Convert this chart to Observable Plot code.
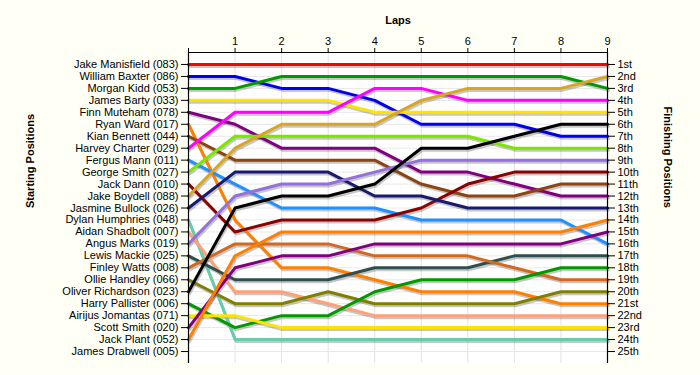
<!DOCTYPE html>
<html><head><meta charset="utf-8">
<script src="https://cdn.jsdelivr.net/npm/d3@7"></script>
<script src="https://cdn.jsdelivr.net/npm/@observablehq/plot@0.6"></script>
<style>
html,body{margin:0;padding:0;background:#FFFFF5;}
#chart svg{display:block;background:#FFFFF5;}
</style></head><body><div id="chart"></div>
<script>
const drivers = [
  "Jake Manisfield (083)", "William Baxter (086)", "Morgan Kidd (053)", "James Barty (033)",
  "Finn Muteham (078)", "Ryan Ward (017)", "Kian Bennett (044)", "Harvey Charter (029)",
  "Fergus Mann (011)", "George Smith (027)", "Jack Dann (010)", "Jake Boydell (088)",
  "Jasmine Bullock (026)", "Dylan Humphries (048)", "Aidan Shadbolt (007)", "Angus Marks (019)",
  "Lewis Mackie (025)", "Finley Watts (008)", "Ollie Handley (066)", "Oliver Richardson (023)",
  "Harry Pallister (006)", "Airijus Jomantas (071)", "Scott Smith (020)", "Jack Plant (052)",
  "James Drabwell (005)"
];
const driverColors = [
  "#ff0000", "#0000ee", "#009900", "#ffe400",
  "#800080", "#ff8000", "#8b4513", "#ff00ff",
  "#1e90ff", "#7ce600", "#8b0000", "#daa520",
  "#191970", "#66cdaa", "#ffa07a", "#9370db",
  "#2f4f4f", "#d2691e", "#808000", "#000000",
  "#009900", "#ffe400", "#800080", "#ff8000",
  "#999999"
];
const laps = [0, 1, 2, 3, 4, 5, 6, 7, 8, 9];
// position of each driver at laps 0..9 (James Drabwell has no laps)
const lapPositions = [
  [1, 1, 1, 1, 1, 1, 1, 1, 1, 1],
  [2, 2, 3, 3, 4, 6, 6, 6, 7, 7],
  [3, 3, 2, 2, 2, 2, 2, 2, 2, 3],
  [4, 4, 4, 4, 5, 5, 5, 5, 5, 5],
  [5, 6, 8, 8, 8, 10, 10, 11, 12, 12],
  [6, 14, 18, 18, 19, 20, 20, 20, 21, 21],
  [7, 9, 9, 9, 9, 11, 12, 12, 11, 11],
  [8, 5, 5, 5, 3, 3, 4, 4, 4, 4],
  [9, 11, 13, 13, 13, 14, 14, 14, 14, 16],
  [10, 7, 7, 7, 7, 7, 7, 8, 8, 8],
  [11, 15, 14, 14, 14, 13, 11, 10, 10, 10],
  [12, 8, 6, 6, 6, 4, 3, 3, 3, 2],
  [13, 10, 10, 10, 12, 12, 13, 13, 13, 13],
  [14, 24, 24, 24, 24, 24, 24, 24, 24, 24],
  [15, 20, 20, 21, 22, 22, 22, 22, 22, 22],
  [16, 12, 11, 11, 10, 9, 9, 9, 9, 9],
  [17, 19, 19, 19, 18, 18, 18, 17, 17, 17],
  [18, 16, 16, 16, 17, 17, 17, 18, 19, 19],
  [19, 21, 21, 20, 21, 21, 21, 21, 20, 20],
  [20, 13, 12, 12, 11, 8, 8, 7, 6, 6],
  [21, 23, 22, 22, 20, 19, 19, 19, 18, 18],
  [22, 22, 23, 23, 23, 23, 23, 23, 23, 23],
  [23, 18, 17, 17, 16, 16, 16, 16, 16, 15],
  [24, 17, 15, 15, 15, 15, 15, 15, 15, 14],
  []
];
const finishLabels = [
  "1st", "2nd", "3rd", "4th", "5th", "6th", "7th", "8th", "9th", "10th",
  "11th", "12th", "13th", "14th", "15th", "16th", "17th", "18th", "19th", "20th",
  "21st", "22nd", "23rd", "24th", "25th"
];
const rowTicks = d3.range(1, 26);

const rows = drivers.flatMap((name, i) =>
  lapPositions[i].map((pos, k) => ({driver: name, lap: laps[k], pos, color: driverColors[i]})));

const font = "'Liberation Sans', Arial, sans-serif";
const chart = Plot.plot({
  width: 700,
  height: 375,
  marginTop: 52,
  marginBottom: 12,
  marginLeft: 188,
  marginRight: 93,
  style: {background: "#FFFFF5", fontFamily: font, fontSize: "11px", color: "#000"},
  x: {domain: [0, 9], axis: null},
  y: {domain: [0, 26], range: [52, 363], axis: null},
  marks: [
    Plot.frame({fill: "white", stroke: null}),
    Plot.gridX(laps, {stroke: "#e2e2e2", strokeOpacity: 1}),
    Plot.gridY(rowTicks, {stroke: "#e8e8e8", strokeOpacity: 1}),
    Plot.line(rows, {x: "lap", y: "pos", z: "driver", stroke: "#000", strokeOpacity: 0.22, strokeWidth: 3, dx: 1, dy: 2}),
    ...drivers.map((name, i) => Plot.line(rows.filter(r => r.driver === name), {
      x: "lap", y: "pos", stroke: driverColors[i], strokeWidth: 3
    })),
    Plot.ruleX([0, 9], {y1: 0, y2: 26, stroke: "#000", strokeWidth: 1.2}),
    Plot.ruleY([0], {x1: 0, x2: 9, stroke: "#000", strokeWidth: 1.2}),
    Plot.axisX(laps, {anchor: "top", tickSize: 5, tickPadding: 3, label: null,
      tickFormat: d => d === 0 ? "" : String(d), fontSize: 11}),
    Plot.axisY(rowTicks, {anchor: "left", tickSize: 7, tickPadding: 3, label: null,
      tickFormat: d => drivers[d - 1], fontSize: 11}),
    Plot.axisY(rowTicks, {anchor: "right", tickSize: 7, tickPadding: 3, label: null,
      tickFormat: d => finishLabels[d - 1], fontSize: 11}),
    Plot.text(["Laps"], {frameAnchor: "top", dy: -36, fontWeight: "bold", fontSize: 11}),
    Plot.text(["Starting Positions"], {frameAnchor: "left", dx: -158, rotate: -90, fontWeight: "bold", fontSize: 11}),
    Plot.text(["Finishing Positions"], {frameAnchor: "right", dx: 60, rotate: 90, fontWeight: "bold", fontSize: 11})
  ]
});
document.getElementById("chart").appendChild(chart);
</script>
</body></html>
